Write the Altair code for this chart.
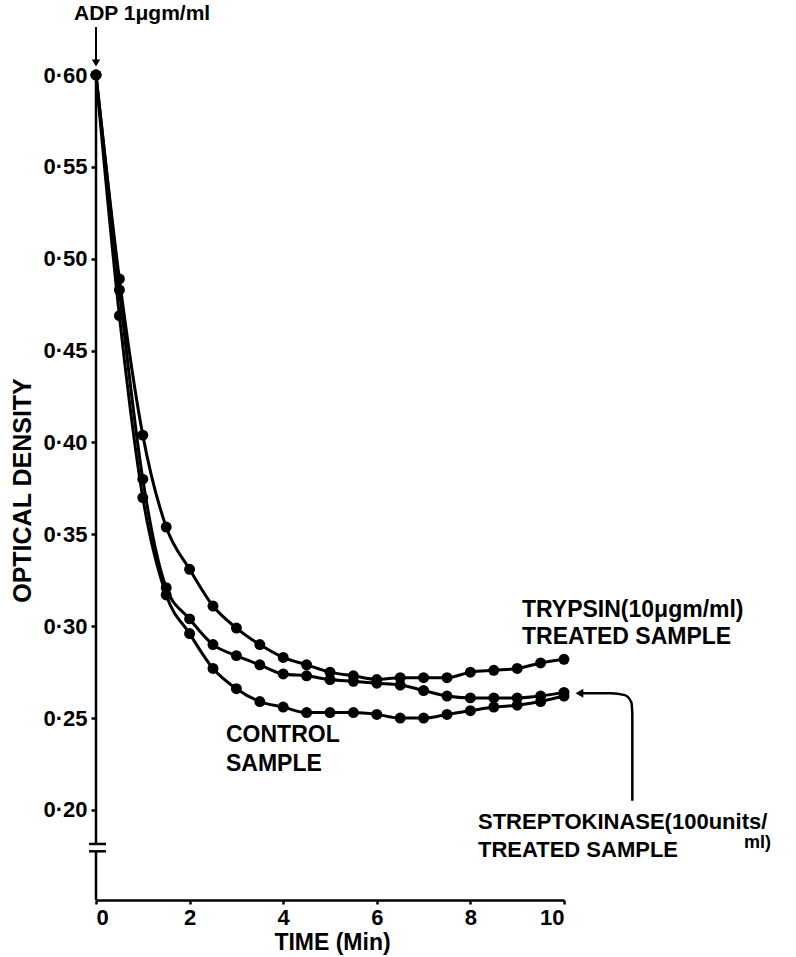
import altair as alt
import pandas as pd

# ---- data (time in minutes, optical density) ----
time = [0, 0.5, 1, 1.5, 2, 2.5, 3, 3.5, 4, 4.5, 5, 5.5, 6, 6.5, 7, 7.5, 8, 8.5, 9, 9.5, 10]
trypsin = [0.600, 0.489, 0.404, 0.354, 0.331, 0.311, 0.299, 0.290, 0.283, 0.279, 0.275,
           0.273, 0.271, 0.272, 0.272, 0.272, 0.275, 0.276, 0.277, 0.280, 0.282]
streptokinase = [0.600, 0.483, 0.380, 0.321, 0.304, 0.290, 0.284, 0.279, 0.274, 0.273, 0.271,
                 0.270, 0.269, 0.268, 0.265, 0.262, 0.261, 0.261, 0.261, 0.262, 0.264]
control = [0.600, 0.469, 0.370, 0.317, 0.296, 0.277, 0.266, 0.259, 0.256, 0.253, 0.253,
           0.253, 0.252, 0.250, 0.250, 0.252, 0.254, 0.256, 0.257, 0.259, 0.262]

x_ticks = [0, 2, 4, 6, 8, 10]
y_ticks = [0.20, 0.25, 0.30, 0.35, 0.40, 0.45, 0.50, 0.55, 0.60]

rows = []
for name, vals in (("trypsin", trypsin), ("streptokinase", streptokinase), ("control", control)):
    for t, v in zip(time, vals):
        rows.append({"time": t, "od": v, "series": name})
df = pd.DataFrame(rows)

FONT = "Liberation Sans, Arial, Helvetica, sans-serif"
W, H = 468, 825
YMIN, YMAX = 0.151, 0.60

xs = alt.Scale(domain=[0, 10], nice=False)
ys = alt.Scale(domain=[YMIN, YMAX], nice=False, zero=False)

X = alt.X("time:Q", scale=xs, axis=alt.Axis(
    values=x_ticks, format="d", title="TIME (Min)", grid=False,
    domainColor="black", domainWidth=2.5, tickColor="black", tickWidth=2.5, tickSize=4,
    labelFont=FONT, labelFontSize=22, labelFontWeight="bold", labelColor="black", labelPadding=3,
    titleFont=FONT, titleFontSize=23, titleFontWeight="bold", titleColor="black",
    titleX=236, titleY=42, titleBaseline="middle"))
Y = alt.Y("od:Q", scale=ys, axis=alt.Axis(
    values=y_ticks, labelExpr="replace(format(datum.value, '.2f'), '.', '·')",
    title="OPTICAL DENSITY", grid=False, domain=False,
    tickColor="black", tickWidth=2.5, tickSize=5,
    labelFont=FONT, labelFontSize=22, labelFontWeight="bold", labelColor="black", labelPadding=4,
    titleFont=FONT, titleFontSize=25, titleFontWeight="bold", titleColor="black",
    titleX=-74, titleY=415, titleBaseline="middle", titleAlign="center"))

Xp = alt.X("time:Q", scale=xs)
Yp = alt.Y("od:Q", scale=ys)

base = alt.Chart(df)
lines = base.mark_line(interpolate="monotone", color="black", strokeWidth=3).encode(
    x=X, y=Y, detail="series:N")
points = base.mark_circle(size=120, color="black", opacity=1).encode(x=Xp, y=Yp)

# y axis line drawn in two pieces with a break
seg = pd.DataFrame({"od": [YMAX, 0.1775], "od2": [0.1815, YMIN]})
yline = alt.Chart(seg).mark_rule(color="black", strokeWidth=2.5).encode(
    x=alt.datum(0), y=Yp, y2="od2:Q")
caps = pd.DataFrame({"od": [0.1815, 0.1775]})
ycaps = alt.Chart(caps).mark_rule(color="black", strokeWidth=2.5).encode(
    x=alt.value(-7), x2=alt.value(10), y=Yp)

# ADP arrow
one = pd.DataFrame({"a": [0]})
adp_line = alt.Chart(one).mark_rule(color="black", strokeWidth=2).encode(
    x=alt.datum(0), y=alt.value(-48), y2=alt.value(-14))
adp_head = alt.Chart(one).mark_point(
    shape="triangle-down", filled=True, color="black", size=70, opacity=1).encode(
    x=alt.datum(0), y=alt.value(-12))

# streptokinase arrow path (annotation)
arrow = pd.DataFrame({
    "time": [10.38, 11.0, 11.3, 11.44, 11.46, 11.46],
    "od": [0.2635, 0.2635, 0.2625, 0.2585, 0.252, 0.205],
    "o": [0, 1, 2, 3, 4, 5]})
arrow_line = alt.Chart(arrow).mark_line(color="black", strokeWidth=2.5, interpolate="monotone").encode(
    x=Xp, y=Yp, order="o:Q")
arrow_head = alt.Chart(one).mark_point(
    shape="triangle-left", filled=True, color="black", size=80, opacity=1).encode(
    x=alt.datum(10.33), y=alt.datum(0.2635))

# text annotations (pixel positions relative to the plot area)
labels = pd.DataFrame({
    "text": ["TRYPSIN(10μgm/ml)", "TREATED SAMPLE", "CONTROL", "SAMPLE",
             "STREPTOKINASE(100units/", "TREATED SAMPLE"],
    "px": [426, 426, 130, 130, 382, 382],
    "py": [535, 562, 660, 689, 747, 775],
    "fs": [23, 23, 23, 23, 22, 22]})
texts = alt.Chart(labels).mark_text(
    font=FONT, fontWeight="bold", color="black", align="left", baseline="middle").encode(
    x=alt.X("px:Q", scale=None), y=alt.Y("py:Q", scale=None), text="text:N",
    size=alt.Size("fs:Q", scale=None, legend=None))
adp = alt.Chart(pd.DataFrame({"text": ["ADP 1μgm/ml"]})).mark_text(
    font=FONT, fontSize=21, fontWeight="bold", color="black", align="left", baseline="middle").encode(
    x=alt.value(-22), y=alt.value(-61), text="text:N")
ml = alt.Chart(pd.DataFrame({"text": ["ml)"]})).mark_text(
    font=FONT, fontSize=18, fontWeight="bold", color="black", align="left", baseline="middle").encode(
    x=alt.value(648), y=alt.value(768), text="text:N")

chart = alt.layer(lines, points, yline, ycaps, adp_line, adp_head, arrow_line, arrow_head,
                  texts, adp, ml).properties(
    width=W, height=H,
    padding={"left": 96, "top": 75, "right": 232, "bottom": 57},
    autosize=alt.AutoSizeParams(type="none"),
    background="white",
).configure_view(stroke=None)

chart.save("out.html", embed_options={"renderer": "svg", "actions": False})
